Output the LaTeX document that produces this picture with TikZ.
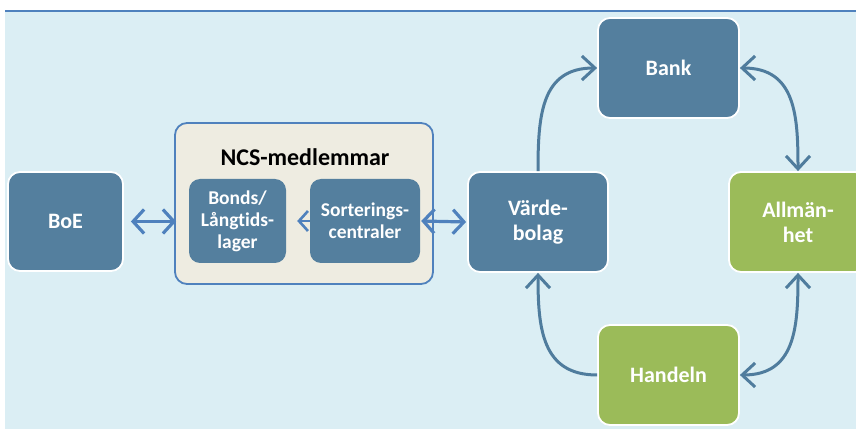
\documentclass[tikz,border=0pt]{standalone}
\usepackage{fontspec}
\setmainfont{Carlito}[Ligatures=NoCommon]
\usetikzlibrary{arrows.meta}
\pgfdeclarelayer{background}
\pgfdeclarelayer{mid}
\pgfsetlayers{background,mid,main}
\definecolor{bgblue}{HTML}{DBEEF4}
\definecolor{frameblue}{HTML}{4F81BD}
\definecolor{nodeblue}{HTML}{547F9E}
\definecolor{nodegreen}{HTML}{9BBB59}
\definecolor{tan}{HTML}{EEECE1}
\definecolor{cyclearrow}{HTML}{4F7C9D}
\tikzset{
  box/.style={draw=white, line width=1.8pt, rounded corners=12pt, inner sep=0pt,
    align=center, text=white, font=\fontsize{22}{25}\selectfont\bfseries},
  bluebox/.style={box, fill=nodeblue},
  greenbox/.style={box, fill=nodegreen},
  innerbox/.style={draw=none, fill=nodeblue, rounded corners=11pt, inner sep=0pt,
    align=center, text=white, font=\fontsize{19.5}{22}\selectfont\bfseries},
  dbl/.style={draw=frameblue, line width=3.2pt,
    >={Straight Barb[length=11pt,width=24pt]}, <->},
  cyc/.style={draw=cyclearrow, line width=3pt,
    >={Straight Barb[length=13pt,width=24pt]}},
}
\begin{document}
\begin{tikzpicture}[x=1pt,y=-1pt]
\useasboundingbox (0,0) rectangle (856,430);
\clip (0,0) rectangle (856,430);
\begin{pgfonlayer}{background}
  \fill[bgblue] (5,10) rectangle (860,429);
  \draw[frameblue, line width=2pt] (5,11) -- (860,11);
  \node[draw=frameblue, fill=tan, line width=1.8pt, rounded corners=12pt,
        minimum width=258pt, minimum height=161pt, inner sep=0pt] (ncs) at (304,203.5) {};
\end{pgfonlayer}
\node[font=\fontsize{24}{27}\selectfont\bfseries] (ncstitle) at (305,157) {NCS-medlemmar};

\node[bluebox, minimum width=115pt, minimum height=99pt] (boe) at (65.5,221.5) {BoE};
\node[innerbox, minimum width=97pt, minimum height=84pt] (bonds) at (237.5,221) {Bonds/\\Långtids-\\lager};
\node[innerbox, minimum width=110pt, minimum height=84pt] (sort) at (365,221) {Sorterings-\\centraler};
\node[bluebox, minimum width=140pt, minimum height=100pt] (varde) at (538,222) {Värde-\\bolag};
\node[bluebox, minimum width=141pt, minimum height=100pt] (bank) at (668.5,68) {Bank};
\node[greenbox, minimum width=138pt, minimum height=100pt] (allman) at (798,222) {Allmän-\\het};
\node[greenbox, minimum width=141pt, minimum height=100pt] (handeln) at (668.5,375) {Handeln};

% double arrows of the settlement chain
\draw[dbl, shorten <=7pt, shorten >=-2pt] (boe.east) -- (boe.east -| ncs.west);
\draw[dbl, shorten <=1pt, shorten >=1pt] (sort.east) -- (varde.west);
\begin{pgfonlayer}{mid}
  \draw[dbl, line width=2.6pt, >={Straight Barb[length=9pt,width=20pt]},
        shorten <=11pt, shorten >=-12pt] (bonds.east) -- (sort.west);
\end{pgfonlayer}

% cash cycle
\draw[cyc, ->] (varde.north) to[out=90, in=180, looseness=1.2] (bank.west);
\draw[cyc, <->] (bank.east) to[out=0, in=90, looseness=1.2] (allman.north);
\draw[cyc, <->] (allman.south) to[out=-90, in=0, looseness=1.2] (handeln.east);
\draw[cyc, ->] (handeln.west) to[out=180, in=-90, looseness=1.2] (varde.south);
\end{tikzpicture}
\end{document}
